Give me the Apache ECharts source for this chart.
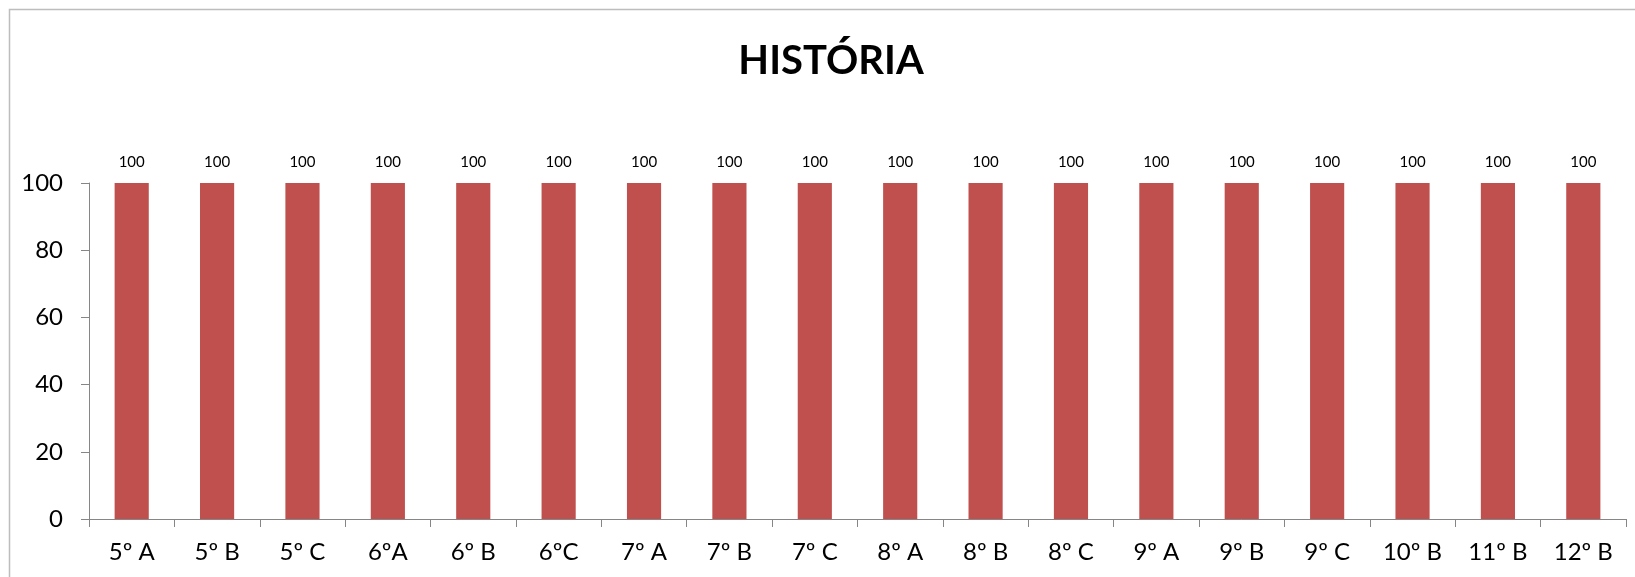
<!DOCTYPE html>
<html>
<head>
<meta charset="utf-8">
<script src="https://cdn.jsdelivr.net/npm/echarts@6/dist/echarts.min.js"></script>
<style>
  html, body { margin: 0; padding: 0; background: #fff; }
  #chart { width: 1635px; height: 577px; }
</style>
</head>
<body>
<div id="chart"></div>
<script>
  var titleText = 'HISTÓRIA'
  var categories = ['5º A', '5º B', '5º C', '6ºA', '6º B', '6ºC', '7º A', '7º B', '7º C',
    '8º A', '8º B', '8º C', '9º A', '9º B', '9º C', '10º B', '11º B', '12º B']
  var values = [100, 100, 100, 100, 100, 100, 100, 100, 100,
    100, 100, 100, 100, 100, 100, 100, 100, 100]
  var yTicks = [0, 20, 40, 60, 80, 100]

  var font = 'Lato, Calibri, sans-serif'
  var axisColor = '#868686'

  var chart = echarts.init(document.getElementById('chart'))
  var option = {
    animation: false,
    backgroundColor: '#fff',
    graphic: [
      {
        type: 'rect',
        shape: { x: 9.5, y: 9.5, width: 1700, height: 700 },
        style: { fill: 'none', stroke: '#bdbdbd', lineWidth: 1.5 },
        silent: true
      },
      {
        type: 'text',
        x: 831,
        y: 61,
        style: {
          text: titleText,
          font: 'bold 40px ' + font,
          fill: '#000',
          align: 'center',
          verticalAlign: 'middle'
        }
      }
    ],
    grid: { left: 89, right: 9, top: 183, bottom: 58 },
    xAxis: {
      type: 'category',
      data: categories,
      axisLine: { lineStyle: { color: axisColor } },
      axisTick: { show: true, length: 8, lineStyle: { color: axisColor } },
      axisLabel: { color: '#000', fontFamily: font, fontSize: 24, margin: 21, interval: 0 }
    },
    yAxis: {
      type: 'value',
      min: yTicks[0],
      max: yTicks[yTicks.length - 1],
      interval: yTicks[1] - yTicks[0],
      axisLine: { show: true, lineStyle: { color: axisColor } },
      axisTick: { show: true, length: 8, lineStyle: { color: axisColor } },
      splitLine: { show: false },
      axisLabel: { color: '#000', fontFamily: font, fontSize: 24, margin: 26 }
    },
    series: [
      {
        type: 'bar',
        data: values,
        barWidth: '40%',
        itemStyle: { color: '#C0504D' },
        label: {
          show: true,
          position: 'top',
          distance: 13,
          color: '#000',
          fontFamily: font,
          fontSize: 15
        }
      }
    ]
  }
  chart.setOption(option)
  window.addEventListener('resize', () => {
    chart.resize()
  })
</script>
</body>
</html>
